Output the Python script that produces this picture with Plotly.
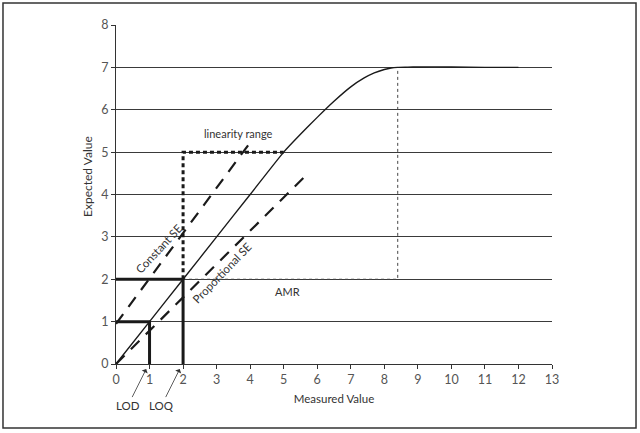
import plotly.graph_objects as go

# Response curve (measured vs expected)
curve_x = [0, 1, 2, 3, 4, 5, 5.5, 6, 6.5, 7, 7.4, 7.7, 8.0, 8.2, 8.4, 8.7, 9, 10, 11, 12]
curve_y = [0, 1, 2, 3, 4, 5, 5.42, 5.82, 6.2, 6.54, 6.75, 6.87, 6.95, 6.985, 7.0, 7.005, 7.01, 7.01, 7.0, 7.0]

# Constant SE and proportional SE lines
const_x = [0, 4.05]
const_y = [0.95, 5.28]
prop_x = [0, 5.75]
prop_y = [0, 4.52]

# LOD / LOQ markers
lod_x = [0, 1, 1]
lod_y = [1, 1, 0]
loq_x = [0, 2, 2]
loq_y = [2, 2, 0]

# Linearity range box
lin_x = [2, 2, 5]
lin_y = [2, 5, 5]

# AMR box
amr_x = [2, 8.4, 8.4]
amr_y = [2, 2, 7]

x_ticks = list(range(0, 14))
y_ticks = list(range(0, 9))

ink = "#1a1a1a"
fig = go.Figure()
fig.add_trace(go.Scatter(x=amr_x, y=amr_y, mode="lines",
                         line=dict(color="#444", width=1, dash="dot")))
fig.add_trace(go.Scatter(x=curve_x, y=curve_y, mode="lines",
                         line=dict(color=ink, width=1.4, shape="spline", smoothing=0.5)))
fig.add_trace(go.Scatter(x=const_x, y=const_y, mode="lines",
                         line=dict(color=ink, width=2.2, dash="12px,9px")))
fig.add_trace(go.Scatter(x=prop_x, y=prop_y, mode="lines",
                         line=dict(color=ink, width=2.2, dash="12px,9px")))
fig.add_trace(go.Scatter(x=lin_x, y=lin_y, mode="lines",
                         line=dict(color=ink, width=3, dash="4px,3px")))
fig.add_trace(go.Scatter(x=lod_x, y=lod_y, mode="lines",
                         line=dict(color=ink, width=3)))
fig.add_trace(go.Scatter(x=loq_x, y=loq_y, mode="lines",
                         line=dict(color=ink, width=3)))

font_fam = "Lato, 'Open Sans', sans-serif"
txt = "#333"
anns = [
    dict(x=3.64, y=5.43, text="linearity range", showarrow=False, font=dict(size=11, color=txt)),
    dict(x=5.12, y=1.71, text="AMR", showarrow=False, font=dict(size=11, color=txt)),
    dict(x=1.28, y=2.72, text="Constant SE", showarrow=False, textangle=-47,
         font=dict(size=11.5, color=txt)),
    dict(x=3.16, y=2.17, text="Proportional SE", showarrow=False, textangle=-46,
         font=dict(size=11.5, color=txt)),
]
for a in anns:
    a["xref"] = "x"
    a["yref"] = "y"
# LOD / LOQ arrow labels (placed just below the x axis)
for tip_x, label in [(0.9, "LOD"), (1.9, "LOQ")]:
    anns.append(dict(x=tip_x, y=-0.015, xref="x", yref="paper",
                     ax=-18, ay=36, axref="pixel", ayref="pixel",
                     text=label, showarrow=True, arrowhead=1, arrowwidth=0.8,
                     arrowcolor="#333", arrowsize=1.4, standoff=0,
                     font=dict(size=11.5, color=txt)))
# y axis title placed as in the reference
anns.append(dict(x=-0.064, y=0.552, xref="paper", yref="paper", text="Expected Value",
                 xanchor="center", yanchor="middle",
                 showarrow=False, textangle=-90, font=dict(size=12, color="#333")))
fig.update_layout(annotations=anns)

fig.add_shape(type="rect", xref="paper", yref="paper",
              x0=-0.2592, x1=1.1927, y0=-0.1888, y1=1.0649,
              line=dict(color="#333", width=1.5))

fig.update_layout(
    width=640, height=433,
    margin=dict(l=116, r=88, t=25, b=69),
    paper_bgcolor="white", plot_bgcolor="white",
    showlegend=False,
    font=dict(family=font_fam, color="#555", size=12.5),
    xaxis=dict(range=[0, 13], tickvals=x_ticks, showgrid=False, zeroline=False,
               showline=True, linecolor="#333", linewidth=1,
               ticks="outside", ticklen=4, tickcolor="#333",
               title=dict(text="Measured Value", font=dict(size=11.5, color="#333"), standoff=8)),
    yaxis=dict(range=[0, 8], tickvals=y_ticks, showgrid=True, gridcolor="#3a3a3a", gridwidth=1,
               zeroline=False, showline=True, linecolor="#333", linewidth=1,
               ticks="outside", ticklen=4, tickcolor="#333"),
)

fig.write_html("out.html", config={"displayModeBar": False},
               post_script="document.body.style.margin='0';document.body.style.overflow='hidden';")
